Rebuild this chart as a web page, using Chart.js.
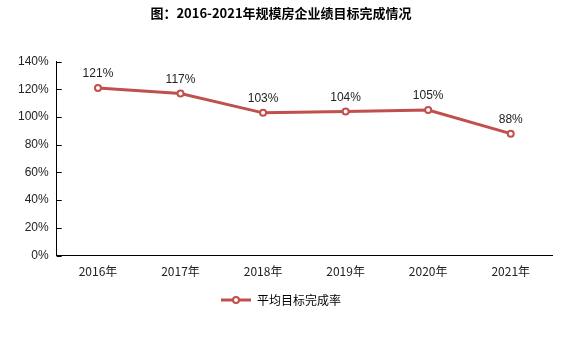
<!DOCTYPE html>
<html>
<head>
<meta charset="utf-8">
<script src="https://cdn.jsdelivr.net/npm/chart.js@4"></script>
<style>
  body { margin: 0; background: #fff; }
  #wrap { width: 570px; height: 337px; position: relative; }
</style>
</head>
<body>
<div id="wrap"><canvas id="c"></canvas></div>
<script>
const years = ['2016年', '2017年', '2018年', '2019年', '2020年', '2021年'];
const rates = [121, 117, 103, 104, 105, 88];
const seriesName = '平均目标完成率';
const titleText = '图：2016-2021年规模房企业绩目标完成情况';

const red = '#C0504D';

// value labels above points + inner tick marks on the y axis
const extras = {
  id: 'extras',
  afterDatasetsDraw(chart) {
    const ctx = chart.ctx;
    const meta = chart.getDatasetMeta(0);
    ctx.save();
    ctx.fillStyle = '#222';
    ctx.font = '12px "Liberation Sans", Arial, sans-serif';
    ctx.textAlign = 'center';
    ctx.textBaseline = 'bottom';
    meta.data.forEach((pt, i) => {
      ctx.fillText(rates[i] + '%', pt.x, pt.y - 8);
    });
    const y = chart.scales.y;
    ctx.strokeStyle = '#000';
    ctx.lineWidth = 1;
    y.ticks.forEach(t => {
      const py = Math.round(y.getPixelForValue(t.value)) + 0.5;
      ctx.beginPath();
      ctx.moveTo(y.right, py);
      ctx.lineTo(y.right + 5, py);
      ctx.stroke();
    });
    ctx.restore();
  }
};

new Chart(document.getElementById('c'), {
  type: 'line',
  data: {
    labels: years,
    datasets: [{
      label: seriesName,
      data: rates,
      borderColor: red,
      backgroundColor: '#fff',
      borderWidth: 3,
      pointRadius: 3,
      pointBorderWidth: 2,
      pointBorderColor: red,
      pointBackgroundColor: '#fff',
      tension: 0
    }]
  },
  options: {
    responsive: true,
    maintainAspectRatio: false,
    animation: false,
    layout: { padding: { left: 10, right: 18, top: 0, bottom: 21 } },
    plugins: {
      title: {
        display: true,
        text: titleText,
        color: '#000',
        font: { family: '"Noto Sans CJK SC"', size: 13, weight: 'bold' },
        padding: { top: 5, bottom: 41 }
      },
      legend: {
        position: 'bottom',
        labels: {
          color: '#222',
          font: { family: '"Noto Sans CJK SC"', size: 12 },
          usePointStyle: true,
          pointStyle: 'line',
          pointStyleWidth: 30,
          padding: 6,
          generateLabels(chart) {
            return [{
              text: seriesName,
              strokeStyle: red,
              fillStyle: red,
              lineWidth: 3,
              pointStyle: 'line',
              datasetIndex: 0
            }];
          }
        }
      },
      tooltip: { enabled: false }
    },
    scales: {
      x: {
        offset: true,
        grid: { display: false, drawTicks: false },
        border: { color: '#000', width: 1 },
        ticks: {
          color: '#222',
          padding: 9,
          font: { family: '"Noto Sans CJK SC"', size: 12 }
        }
      },
      y: {
        min: 0,
        max: 140,
        grid: { display: false, drawTicks: false },
        border: { color: '#000', width: 1 },
        ticks: {
          stepSize: 20,
          color: '#222',
          padding: 8,
          font: { family: '"Liberation Sans", Arial, sans-serif', size: 12 },
          callback: v => v + '%'
        }
      }
    }
  },
  plugins: [extras, {
    id: 'legendMarker',
    afterDraw(chart) {
      const lg = chart.legend;
      if (!lg || !lg.legendHitBoxes.length) return;
      const b = lg.legendHitBoxes[0];
      const ctx = chart.ctx;
      const cx = b.left + 15;
      const cy = b.top + b.height / 2;
      ctx.save();
      ctx.beginPath();
      ctx.arc(cx, cy, 3, 0, Math.PI * 2);
      ctx.fillStyle = '#fff';
      ctx.fill();
      ctx.lineWidth = 2;
      ctx.strokeStyle = red;
      ctx.stroke();
      ctx.restore();
    }
  }]
});
</script>
</body>
</html>
